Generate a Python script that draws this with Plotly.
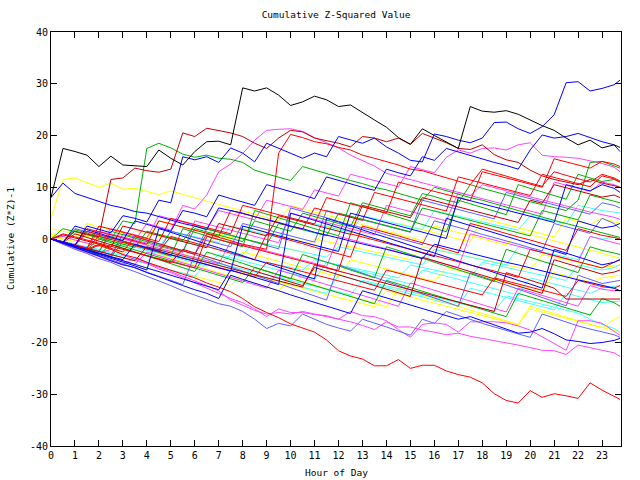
import plotly.graph_objects as go

# Time grid (hours): half-hour samples plus the final reading
HOURS = [i * 0.5 for i in range(48)] + [23.75]

BLACK = [8, 17.5, 16.9, 16.2, 14, 16, 14.3, 14.2, 14, 17.2, 15.6, 14.3, 16.9, 18.8, 18.9, 18.2, 29.2, 28.6, 29.2, 27.8, 25.8, 26.5, 27.6, 26.9, 25.6, 25.9, 24.4, 23, 21.6, 19.6, 18.3, 21.3, 20, 18.8, 17.5, 25.6, 24.7, 24.5, 24.8, 24.1, 23, 21.9, 21, 19.5, 18.2, 19.1, 17.6, 18.2, 17.7]
BLUE_TOP = [0, -0.6, -1.2, 2.5, 1.8, 1.2, 4.5, 4, 3.3, 7.5, 7, 15.9, 15.3, 15.9, 14.8, 17.6, 16.6, 14.9, 18.5, 17.5, 16.6, 15.6, 16.6, 15.9, 19.8, 19.1, 18.5, 19.5, 17.8, 16.6, 15.2, 14.9, 20.3, 19.8, 19.1, 18.6, 19.5, 22.5, 22.6, 21.3, 20.4, 21.7, 24, 30.2, 30.4, 28.6, 29.1, 29.8, 30.7]
BLUE_UP = [0, -0.7, 2.5, 1.8, 1, 0.4, -0.3, 3.5, 2.8, 2.2, 1.5, 5.5, 5, 4.3, 8.5, 7.8, 7.2, 6.5, 10.5, 9.8, 9.2, 8.5, 7.8, 12, 11.3, 10.7, 10, 9.4, 13.5, 12.8, 12.2, 15.9, 15.2, 17.5, 16.8, 16.2, 15.5, 14.8, 14.2, 13.5, 17.2, 20.1, 19.5, 19.8, 20.4, 19.6, 18.8, 18.2, 16.9]
BLUE_START8 = [8, 10.8, 8.8, 8, 7.2, 6.5, 6, 5.3, 5, 4.3, 3.6, 3, 2.5, 1.8, 6, 5.5, 5, 4.3, 3.8, 3.2, 2.5, 2, 1.3, 0.8, 0.2, -0.4, -1, -1.5, -2, -2.6, -3.2, -3.8, -1, -1.6, -2.2, -2.8, -3.3, -4, -4.5, -5, -5.6, -6.2, -6.8, -7.3, -7.9, -8.4, -9, -9.5, -10]
RED_LOW = [0, -0.7, -1.4, -2.2, -1.2, -2, -3, -3.6, -4.5, -5.3, -6, -6.8, -7.5, -8.5, -9.3, -10.2, -11.5, -13.1, -14.2, -15.2, -16.4, -17.2, -18, -19.5, -21.6, -22.6, -23.2, -24.5, -24.5, -23.3, -25, -24.4, -24.4, -25.5, -26.2, -26.7, -27.8, -29.9, -31.2, -31.7, -29.3, -30.6, -29.9, -30.3, -30.8, -27.8, -29.2, -30.4, -31]
DKRED_HIGH = [0, -0.5, 1.5, 1, 0.4, 11.5, 11.8, 13.7, 13.2, 12.9, 13.5, 20.5, 19.8, 21.4, 20.9, 20.5, 19.8, 18.5, 17.5, 19.5, 21, 20.7, 19.5, 19, 18.5, 17.8, 19.8, 19.5, 18.8, 19.5, 18.3, 20.4, 19.5, 18.6, 17.5, 17.3, 18.2, 16.3, 15.3, 14.8, 13.3, 12.2, 11.5, 11, 10.5, 11.5, 10.8, 10.3, 10]
RED_HIGH = [0, -0.6, -1.3, -2, -1, -1.8, -2.5, 0.5, -0.2, -1, -1.6, -2.3, -3, 1, 0.3, -0.4, -1, -1.5, -2, 16.6, 20.2, 19.6, 18.8, 18.4, 17.7, 17.2, 16.2, 15.6, 15, 14.3, 13.5, 13.2, 12.5, 11.8, 11.2, 10.5, 13.5, 12.8, 12.2, 11.5, 10.8, 10.2, 13, 12.3, 11.6, 11, 12.5, 11.8, 11.2]
GREEN_HIGH = [0, -0.6, 1.8, 1.2, 0.5, -0.1, 3.5, 3, 17.5, 18.5, 17.6, 16.4, 15.8, 16.2, 15.6, 15.4, 14.8, 13.3, 12.6, 12, 11.3, 14, 13.3, 12.7, 12, 11.3, 10.7, 10, 9.5, 8.8, 8.2, 7.5, 10, 9.3, 8.7, 8, 7.5, 6.8, 6.2, 5.5, 4.9, 4.2, 3.6, 3, 2.4, 1.8, 1.2, 0.7, 0.3]
GREEN_LATE = [0, -0.6, -1.2, -1.9, -2.5, 1.5, 0.8, 0.2, -0.5, -1.2, -1.8, -2.4, 2, 1.4, 0.7, 0.1, -0.5, 3.5, 2.8, 2.2, 1.5, 5, 4.3, 3.7, 3, 2.4, 7, 6.4, 5.7, 5.1, 4.5, 8.8, 8.2, 7.5, 7, 10.5, 9.8, 9.2, 8.5, 7.9, 7.2, 6.6, 6, 5.5, 7.5, 14.8, 15, 14.2, 13.7]
YELLOW_HIGH = [4, 11.5, 11.8, 10.9, 10, 10.8, 9.6, 9.8, 9.2, 8.6, 9.3, 8.6, 7.9, 7.3, 6.7, 6, 5.4, 4.8, 4.1, 3.5, 6.5, 5.8, 5.2, 4.6, 4, 3.4, 2.8, 2.1, 1.5, 0.9, 0.3, -0.3, 2.5, 1.9, 1.3, 0.7, 0, -0.6, -1.2, 1.5, 0.9, 0.3, -0.3, -0.9, -1.5, -2.1, -2.7, -3.3, -3.7]
MAG_LATE = [0, 0.5, -0.2, -0.8, -1.4, 2, 1.4, 0.8, 0.2, 4.5, 3.9, 3.3, 2.7, 2.1, 5.5, 4.9, 4.3, 3.7, 7.5, 6.9, 6.3, 5.7, 9.5, 8.9, 8.3, 12.5, 11.9, 11.3, 10.7, 10.1, 14, 13.4, 12.8, 15.8, 17.2, 16.6, 17.5, 17.6, 17.2, 18.2, 18.6, 16.2, 15.9, 15.8, 15.6, 15.1, 14.6, 13.9, 13]
MAG_PEAK = [0, -0.5, -1.1, -1.7, 1.5, 0.9, 0.3, -0.3, 3, 2.4, 1.7, 6.5, 5.8, 8.5, 13, 14.5, 16.5, 19.1, 21, 21.2, 21.3, 20.8, 19.6, 18.6, 17.6, 16.2, 15.2, 14.1, 12.7, 12.1, 11.5, 10.8, 10.2, 9.6, 9, 8.4, 10.5, 9.9, 9.3, 8.7, 8.1, 7.5, 7, 6.4, 5.8, 5.2, 4.7, 4.2, 3.8]
MAG_LOW_A = [0, -0.6, -1.3, -2, -2.8, -2, -3, -4, -4.7, -5.8, -6.5, -7.5, -8.5, -9.5, -10.5, -11.5, -12.3, -13.5, -15, -13.5, -14.2, -14.2, -14.6, -14.8, -15.5, -14, -14.8, -15, -15.8, -17.5, -19, -16.5, -16.2, -16.5, -18, -16, -16, -16, -16.2, -16.8, -17.6, -18.9, -20.2, -21.5, -15.8, -15.8, -16.3, -17.8, -18.6]
MAG_LOW_B = [0, -1, -1.8, -2.6, -3.3, -4.2, -5, -3.5, -4.5, -5.5, -6.3, -7.2, -8, -9, -10, -11.8, -12.8, -13.8, -14.5, -14.2, -14.5, -14, -14.5, -15, -15.5, -16, -16.7, -17.5, -16, -17, -17, -17.6, -18, -18.5, -18.2, -18.8, -19.2, -19.6, -20, -20.5, -21, -21.5, -21.6, -22.3, -20.5, -21, -21.5, -22, -22.7]
PERI_LOW = [0, -1, -2, -2.8, -3.8, -4.5, -5.5, -6.3, -7.2, -8, -9, -10, -10.8, -11.7, -12.5, -13, -14, -15.5, -17.3, -16.3, -16.8, -14.5, -15.5, -16.5, -17.2, -17.8, -15.5, -16.2, -17, -17.8, -18.6, -15.5, -16.3, -14, -14.8, -15.6, -16.3, -17, -17.7, -18.4, -19, -14.5, -15.3, -16, -16.8, -17.4, -18, -18.5, -19]
BLUE_LOW = [0, -0.8, -1.7, -2.5, -3.3, -4.2, -5, -5.5, -6.5, -7.3, -8.2, -9, -9.8, -10.5, -11.5, -7, -7.8, -8.5, -9.3, -10, -10.8, -11.5, -12.2, -13, -13.7, -14.4, -10, -10.7, -11.4, -12.1, -12.8, -13.5, -14.2, -14.9, -15.5, -15, -15.8, -16.6, -17.5, -18.2, -18, -17.3, -18.3, -19.5, -19.8, -20.2, -20, -19.6, -19.2]
RED_A = [0, -0.6, -1.2, 2, 1.4, 0.8, 0.2, -0.4, -1, 3.5, 2.9, 2.3, 1.7, 1.1, 0.5, 5.5, 4.9, 4.3, 3.7, 3.1, 2.5, 1.9, 6, 5.4, 4.8, 4.2, 3.6, 9, 8.4, 7.8, 7.2, 6.6, 6, 5.4, 12, 11.4, 10.8, 10.2, 9.6, 9, 8.4, 12.5, 11.9, 11.3, 10.7, 10.1, 12.2, 11.6, 11]
DKRED_A = [0, 0.8, 0.2, -0.4, -1, -1.6, 2.5, 1.9, 1.3, 0.7, 0.1, -0.5, -1.1, -1.7, 3, 2.4, 1.8, 1.2, 0.6, 4.5, 3.9, 3.3, 2.7, 2.1, 1.5, 0.9, 6.5, 5.9, 5.3, 4.7, 4.1, 8, 7.4, 6.8, 6.2, 5.6, 5, 4.4, 3.8, 3.2, 7.5, 6.9, 10.5, 9.9, 9.3, 8.7, 8.1, 8.5, 8]
BLUE_A = [0, -0.7, -1.4, -2.1, -2.8, -3.4, -4, -1, -1.7, -2.4, -3, -3.7, -4.3, -5, -5.6, -6.2, 2.5, 1.9, 1.2, 0.6, 0, -0.6, -1.2, -1.8, -2.4, 5, 4.4, 3.7, 3.1, 2.5, 1.9, 1.3, 0.7, 0.1, 8, 7.4, 6.8, 6.2, 5.6, 5, 4.4, 3.8, 3.2, 10.5, 9.9, 9.3, 10.5, 9.8, 9]
GREEN_A = [0, 2, 1.4, 0.8, 0.2, -0.4, -1, -1.6, 1.5, 0.9, 0.3, -0.3, 2.5, 1.9, 1.3, 0.7, 0.1, -0.5, -1.1, 3, 2.4, 1.8, 1.2, 0.6, 5, 4.4, 3.8, 3.2, 2.6, 2, 1.4, 6, 5.4, 4.8, 4.2, 3.6, 3, 2.4, 1.8, 1.2, 0.6, 5.5, 4.9, 4.3, 3.7, 8.5, 7.9, 7.4, 7]
CYAN_A = [0, -0.5, -1, -1.6, -2.1, 0.5, 0, -0.5, -1.1, -1.6, 1.5, 1, 0.4, -0.1, -0.7, 2.5, 2, 1.4, 0.9, 0.3, 4, 3.5, 2.9, 2.4, 1.8, 1.3, 4.5, 4, 3.4, 2.9, 2.3, 1.8, 5.5, 5, 4.4, 3.9, 3.3, 2.8, 2.2, 1.7, 4.5, 4, 3.4, 2.9, 6.5, 6, 5.5, 5.2, 5]
YELLOW_A = [0.5, 0, -0.5, 3, 2.4, 1.8, 1.2, 0.6, 0, 3.5, 2.9, 2.3, 1.7, 1.1, 0.5, -0.1, 2.5, 1.9, 1.3, 0.7, 0.1, -0.5, -1.1, 2.5, 1.9, 1.3, 0.7, 0.1, -0.5, 3, 2.4, 1.8, 1.2, 0.6, 0, -0.6, 4, 3.4, 2.8, 2.2, 1.6, 1, 0.4, 4, 3.4, 2.8, 4, 3.4, 3]
PERI_A = [0, -0.7, -1.4, -2, -2.7, -3.3, 1, 0.4, -0.3, -0.9, -1.6, -2.2, -2.9, 2, 1.4, 0.7, 0.1, -0.6, -1.2, -1.9, 6, 5.4, 4.7, 4.1, 3.4, 2.8, 2.1, 1.5, 0.8, 0.2, -0.5, -1.1, 3.5, 2.9, 2.2, 1.6, 0.9, 0.3, -0.4, -1, -1.7, -2.3, 3, 2.4, 1.7, 1.1, 4, 3, 2]
RED_B = [0, -0.6, -1.3, 1.5, 0.9, 0.2, -0.4, -1.1, -1.7, -2.4, 0.5, -0.1, -0.8, -1.4, -2.1, -2.7, -3.4, -4, 1, 0.4, -0.3, -0.9, -1.6, -2.2, -2.9, -3.5, 2.5, 1.9, 1.2, 0.6, -0.1, -0.7, -1.4, -2, -2.7, 3, 2.4, 1.7, 1.1, 0.4, -0.2, -0.9, -1.5, -2.2, 2, 1.4, 0.7, 0.3, 0]
MAG_A = [0, -0.6, -1.2, -1.8, -2.4, -3, 0, -0.6, -1.2, -1.8, -2.4, -3, -3.6, -4.2, -4.8, -0.5, -1.1, -1.7, -2.3, -2.9, -3.5, -4.1, -4.7, -5.3, 0.5, -0.1, -0.7, -1.3, -1.9, -2.5, -3.1, -3.7, -4.3, -4.9, -5.5, 1, 0.4, -0.2, -0.8, -1.4, -2, -2.6, -3.2, -3.8, -4.4, 0.5, -0.1, -0.6, -1]
GREEN_B = [0, -0.8, -1.6, -2.3, -3.1, -1, -1.8, -2.5, -3.3, -4, -4.8, -5.5, -6.3, -2.5, -3.2, -4, -4.7, -5.5, -6.2, -7, -7.7, -3, -3.7, -4.5, -5.2, -6, -6.7, -7.5, -1.5, -2.2, -3, -3.7, -4.5, -5.2, -6, -6.7, -7.5, -8.2, -2, -2.8, -3.5, -4.3, -5, -5.8, -6.5, -1.5, -2.2, -2.7, -3]
BLUE_B = [0, -0.7, -1.5, -2.2, -3, -3.7, -4.5, -5.2, -6, 2, 1.3, 0.5, -0.2, -1, -1.7, -2.5, -3.2, -4, -4.7, -5.5, -6.2, -7, -7.7, 4, 3.3, 2.5, 1.8, 1, 0.3, -0.5, -1.2, -2, -2.7, -3.5, -4.2, -5, -5.7, -6.5, -7.2, -8, -8.7, -9.5, -2, -2.7, -3.5, -4.2, -5, -4.5, -4]
CYAN_B = [0, -0.5, -1, -1.5, -2, -2.5, -3, -1.5, -2, -2.5, -3, -3.5, -4, -4.5, -5, -3, -3.5, -4, -4.5, -5, -5.5, -6, -4, -4.5, -5, -5.5, -6, -6.5, -7, -7.5, -5, -5.5, -6, -6.5, -7, -7.5, -4.5, -5, -5.5, -6, -6.5, -7, -7.5, -8, -5, -5.5, -6, -5.5, -5]
DKRED_B = [0, -0.7, 1, 0.3, -0.4, -1.1, -1.8, -2.5, -3.2, -3.9, -4.6, -2, -2.7, -3.4, -4.1, -4.8, -5.5, -6.2, -6.9, -7.6, -8.3, -9, -5.5, -6.2, -6.9, -7.6, -8.3, -9, -9.7, -10.4, -11.1, -3.5, -4.2, -4.9, -5.6, -6.3, -7, -7.7, -8.4, -9.1, -9.8, -10.5, -4, -4.7, -5.4, -6.1, -6.8, -6.4, -6]
YELLOW_B = [1, 0.4, -0.2, -0.8, -1.4, -2, -2.6, -0.5, -1.1, -1.7, -2.3, -2.9, -3.5, -4.1, -4.7, -5.3, -2.5, -3.1, -3.7, -4.3, -4.9, -5.5, -6.1, -6.7, -7.3, -4, -4.6, -5.2, -5.8, -6.4, -7, -7.6, -8.2, -5.5, -6.1, -6.7, -7.3, -7.9, -8.5, -9.1, -9.7, -10.3, -6.5, -7.1, -7.7, -8.3, -7.5, -7.2, -7]
PERI_B = [0, -0.8, -1.6, -2.4, -3.2, -4, -4.8, -5.6, -6.4, -7.2, -8, -8.8, -3, -3.8, -4.6, -5.4, -6.2, -7, -7.8, -8.6, -9.4, -10.2, -11, -11.8, -5, -5.8, -6.6, -7.4, -8.2, -9, -9.8, -10.6, -11.4, -12.2, -13, -6.5, -7.3, -8.1, -8.9, -9.7, -10.5, -11.3, -12.1, -12.9, -7, -7.8, -8.6, -8.2, -8]
RED_C = [0, -0.6, -1.2, -1.8, 0.5, -0.1, -0.7, -1.3, -1.9, -2.5, -3.1, -3.7, -4.3, -4.9, -5.5, -6.1, -6.7, -7.3, -4.5, -5.1, -5.7, -6.3, -6.9, -7.5, -8.1, -8.7, -9.3, -9.9, -6, -6.6, -7.2, -7.8, -8.4, -9, -9.6, -10.2, -10.8, -7.5, -8.1, -8.7, -9.3, -9.9, -10.5, -11.1, -8, -8.6, -9.2, -9.5, -9]
MAG_B = [0, -0.7, -1.4, -2.1, -2.8, -3.5, -4.2, -4.9, -2.5, -3.2, -3.9, -4.6, -5.3, -6, -6.7, -7.4, -8.1, -8.8, -9.5, -6, -6.7, -7.4, -8.1, -8.8, -9.5, -10.2, -10.9, -11.6, -12.3, -13, -8.5, -9.2, -9.9, -10.6, -11.3, -12, -12.7, -13.4, -14.1, -9.5, -10.2, -10.9, -11.6, -12.3, -13, -9, -9.7, -10, -10]
CYAN_C = [0, -0.6, -1.2, -1.8, -2.4, -3, -3.6, -4.2, -4.8, -5.4, -6, -6.6, -7.2, -4.5, -5.1, -5.7, -6.3, -6.9, -7.5, -8.1, -8.7, -9.3, -9.9, -10.5, -7, -7.6, -8.2, -8.8, -9.4, -10, -10.6, -11.2, -11.8, -12.4, -13, -9.5, -10.1, -10.7, -11.3, -11.9, -12.5, -13.1, -13.7, -10.5, -11.1, -11.7, -12.3, -12.1, -12]
GREEN_C = [0, -0.7, -1.4, -2.1, 0, -0.7, -1.4, -2.1, -2.8, -3.5, -4.2, -4.9, -5.6, -6.3, -7, -7.7, -8.4, -5.5, -6.2, -6.9, -7.6, -8.3, -9, -9.7, -10.4, -11.1, -11.8, -12.5, -8, -8.7, -9.4, -10.1, -10.8, -11.5, -12.2, -12.9, -13.6, -14.3, -15, -10.5, -11.2, -11.9, -12.6, -13.3, -14, -14.7, -11.5, -12.3, -13]
YELLOW_C = [0, -0.7, -1.4, -2.1, -2.8, -3.5, -4.2, -4.9, -5.6, -3, -3.7, -4.4, -5.1, -5.8, -6.5, -7.2, -7.9, -8.6, -9.3, -10, -7.5, -8.2, -8.9, -9.6, -10.3, -11, -11.7, -12.4, -13.1, -9.5, -10.2, -10.9, -11.6, -12.3, -13, -13.7, -14.4, -15.1, -15.8, -16.5, -13, -13.7, -14.4, -15.1, -15.8, -16.5, -17.2, -15.5, -15]
CYAN_D = [0, -0.5, -1.1, -1.6, -2.2, -2.7, -3.3, -3.8, -4.4, -2, -2.5, -3.1, -3.6, -4.2, -4.7, -5.3, -5.8, -6.4, -6.9, -7.5, -8, -8.6, -9.1, -9.7, -10.2, -10.8, -8, -8.5, -9.1, -9.6, -10.2, -10.7, -11.3, -11.8, -12.4, -12.9, -13.5, -14, -11, -11.5, -12.1, -12.6, -13.2, -13.7, -14.3, -15.5, -16.5, -17.3, -18]
BLUE_C = [0, -0.7, -1.4, -2.1, -2.8, -3.5, -4.2, -4.9, -5.6, -6.3, -7, -7.7, -8.4, -9.1, -9.8, -6, -6.7, -7.4, -8.1, -8.8, 5, 4.3, 3.6, 2.9, 2.2, 1.5, 0.8, 0.1, -0.6, -1.3, -2, -2.7, -3.4, 4, 3.3, 2.6, 1.9, 1.2, 0.5, -0.2, -0.9, -1.6, -2.3, -3, 3.5, 2.8, 2.1, 2.5, 3]
PERI_C = [0, -0.6, 2, 1.4, 0.8, 0.2, -0.4, -1, -1.6, -2.2, 1.5, 0.9, 0.3, -0.3, -0.9, -1.5, 3, 2.4, 1.8, 1.2, 0.6, 0, -0.6, 5.5, 4.9, 4.3, 3.7, 3.1, 2.5, 1.9, 1.3, 7.5, 6.9, 6.3, 5.7, 5.1, 4.5, 3.9, 9, 8.4, 7.8, 7.2, 6.6, 6, 5.4, 4.8, 7, 6.5, 6]
DKRED_C = [0, -0.6, -1.2, -1.8, -2.4, -3, -3.6, -4.2, -1.5, -2.1, -2.7, -3.3, -3.9, -4.5, -5.1, -5.7, -6.3, -6.9, -7.5, -8.1, -8.7, -9.3, -5, -5.6, -6.2, -6.8, -7.4, -8, -8.6, -9.2, -9.8, -10.4, -11, -11.6, -12.2, -12.8, -13.4, -14, -6.5, -7.2, -8, -8.7, -9.5, -11.6, -11.6, -11.6, -11.6, -11.6, -11.6]
RED_D = [0, 1, 0.4, -0.2, -0.8, -1.4, -2, -2.6, -3.2, -3.8, -4.4, -5, -5.6, 0.5, -0.1, -0.7, -1.3, -1.9, -2.5, -3.1, -3.7, -4.3, -4.9, -5.5, -6.1, 1, 0.4, -0.2, -0.8, -1.4, -2, -2.6, -3.2, -3.8, -4.4, -5, -5.6, -6.2, -6.8, -7.4, -2, -2.6, -3.2, -3.8, -4.4, -5, -5.6, -4.5, -4]
YELLOW_D = [0, -0.6, -1.2, -1.8, -2.4, -3, -3.6, -4.2, -4.8, -5.4, -6, -6.6, -7.2, -7.8, -8.4, -9, -6.5, -7.1, -7.7, -8.3, -8.9, -9.5, -10.1, -10.7, -11.3, -11.9, -12.5, -13.1, -10, -10.6, -11.2, -11.8, -12.4, -13, -13.6, -14.2, -14.8, -15.4, -16, -16.6, -13.5, -14.1, -14.7, -15.3, -15.9, -16.5, -17.1, -17.7, -18]
MAG_C = [0, -0.6, -1.2, -1.8, -2.4, 1, 0.4, -0.2, -0.8, -1.4, -2, -2.6, 3.5, 2.9, 2.3, 1.7, 1.1, 0.5, -0.1, -0.7, 5, 4.4, 3.8, 3.2, 2.6, 2, 1.4, 0.8, 6.5, 5.9, 5.3, 4.7, 4.1, 3.5, 9, 8.4, 7.8, 7.2, 6.6, 6, 5.4, 4.8, 11, 10.4, 9.8, 9.2, 11, 10.5, 10]
CYAN_E = [0, -0.5, -1, 1, 0.5, 0, -0.5, -1, -1.5, -2, 0, -0.5, -1, -1.5, -2, -2.5, -3, -0.5, -1, -1.5, -2, -2.5, -3, -3.5, -1.5, -2, -2.5, -3, -3.5, -4, -4.5, -5, -2, -2.5, -3, -3.5, -4, -4.5, -5, -1.5, -2, -2.5, -3, -3.5, -4, 0.5, 0, 0.3, 0]
RED_E = [0, -0.6, -1.2, -1.8, 2.5, 1.9, 1.3, 0.7, 0.1, -0.5, 4, 3.4, 2.8, 2.2, 1.6, 1, 6.5, 5.9, 5.3, 4.7, 4.1, 3.5, 2.9, 8, 7.4, 6.8, 6.2, 5.6, 5, 11, 10.4, 9.8, 9.2, 8.6, 8, 7.4, 13, 12.4, 11.8, 11.2, 10.6, 10, 15.5, 14.9, 14.3, 13.7, 15, 14.5, 14]
GREEN_D = [0, -0.7, -1.4, -2.1, -2.8, -3.5, -0.5, -1.2, -1.9, -2.6, -3.3, 2, 1.3, 0.6, -0.1, -0.8, -1.5, 5.5, 4.8, 4.1, 3.4, 2.7, 2, 1.3, 0.6, 7, 6.3, 5.6, 4.9, 4.2, 3.5, 2.8, 2.1, 1.4, 7.5, 6.8, 6.1, 5.4, 4.7, 10.5, 9.8, 9.1, 8.4, 7.7, 12.5, 11.8, 11.1, 11.5, 11]
YELLOW_E = [2, 1.5, 1, 0.5, 0, -0.5, -1, 1.5, 1, 0.5, 0, -0.5, -1, -1.5, 1, 0.5, 0, -0.5, -1, -1.5, -2, -2.5, 0, -0.5, -1, -1.5, -2, -2.5, -3, -3.5, -4, -1.5, -2, -2.5, -3, -3.5, -4, -4.5, -5, -5.5, -6, -3, -3.5, -4, -4.5, -5, -5.5, -5.2, -5]
CYAN_F = [0, -0.6, -1.2, -1.8, -2.4, -3, -1, -1.6, -2.2, -2.8, -3.4, -4, -4.6, -5.2, -3, -3.6, -4.2, -4.8, -5.4, -6, -6.6, -7.2, -7.8, -4.5, -5.1, -5.7, -6.3, -6.9, -7.5, -8.1, -8.7, -6, -6.6, -7.2, -7.8, -8.4, -9, -9.6, -10.2, -10.8, -7.5, -8.1, -8.7, -9.3, -9.9, -10.5, -9.5, -9.2, -9]

X_TICKS = list(range(24))
Y_TICKS = [-40, -30, -20, -10, 0, 10, 20, 30, 40]

RED = "#ff0000"
DKRED = "#c00000"
GREEN = "#00b000"
BLUE = "#0000ff"
PERI = "#6060ff"
MAG = "#ff44ff"
CYAN = "#44ffff"
YELLOW = "#ffff00"

SERIES = [
    (YELLOW_E, YELLOW), (CYAN_F, CYAN), (CYAN_E, CYAN), (YELLOW_D, YELLOW),
    (YELLOW_A, YELLOW), (CYAN_A, CYAN), (YELLOW_B, YELLOW), (CYAN_B, CYAN),
    (CYAN_C, CYAN), (YELLOW_C, YELLOW), (CYAN_D, CYAN), (YELLOW_HIGH, YELLOW),
    (MAG_LOW_A, MAG), (MAG_LOW_B, MAG), (MAG_A, MAG), (MAG_B, MAG), (MAG_C, MAG),
    (MAG_LATE, MAG), (MAG_PEAK, MAG),
    (PERI_LOW, PERI), (PERI_A, PERI), (PERI_B, PERI), (PERI_C, PERI),
    (GREEN_A, GREEN), (GREEN_B, GREEN), (GREEN_C, GREEN), (GREEN_D, GREEN),
    (GREEN_HIGH, GREEN), (GREEN_LATE, GREEN),
    (DKRED_A, DKRED), (DKRED_B, DKRED), (DKRED_C, DKRED), (DKRED_HIGH, DKRED),
    (RED_A, RED), (RED_B, RED), (RED_C, RED), (RED_D, RED), (RED_E, RED),
    (RED_HIGH, RED), (RED_LOW, RED),
    (BLUE_A, BLUE), (BLUE_B, BLUE), (BLUE_C, BLUE), (BLUE_LOW, BLUE),
    (BLUE_START8, BLUE), (BLUE_UP, BLUE), (BLUE_TOP, BLUE),
    (BLACK, "#000000"),
]

fig = go.Figure()
for vals, col in SERIES:
    fig.add_trace(go.Scatter(x=HOURS[:len(vals)], y=vals, mode="lines",
                             line=dict(color=col, width=1), hoverinfo="skip"))

FONT = dict(family="DejaVu Sans Mono", size=10, color="#000000")

axis_common = dict(showgrid=False, zeroline=False, showline=True, linecolor="#000000",
                   linewidth=1, ticks="inside", ticklen=6, tickwidth=1,
                   tickcolor="#000000", mirror="ticks", tickfont=FONT)

fig.update_layout(
    width=640, height=480,
    margin=dict(l=51, r=19, t=32, b=34),
    paper_bgcolor="white", plot_bgcolor="white",
    showlegend=False,
    font=FONT,
    title=dict(text="Cumulative Z-Squared Value", x=0.525, xanchor="center",
               y=1 - 15 / 480, yref="container", yanchor="middle",
               font=dict(family="DejaVu Sans Mono", size=9.5, color="#000000")),
    xaxis=dict(range=[0, 23.79], tickmode="array", tickvals=X_TICKS,
               ticktext=[str(t) for t in X_TICKS], **axis_common),
    yaxis=dict(range=[-40, 40], tickmode="array", tickvals=Y_TICKS,
               ticktext=[str(t) for t in Y_TICKS], **axis_common),
    annotations=[
        dict(text="Hour of Day", xref="paper", yref="paper", x=0.5, y=0,
             xanchor="center", yanchor="middle", yshift=-26, showarrow=False,
             font=dict(family="DejaVu Sans Mono", size=9.5, color="#000000")),
        dict(text="Cumulative (Z*Z)-1", xref="paper", yref="paper", x=0, y=0.5,
             xanchor="center", yanchor="middle", xshift=-41, textangle=-90,
             showarrow=False,
             font=dict(family="DejaVu Sans Mono", size=9.5, color="#000000")),
    ],
)

fig.write_html("out.html")
